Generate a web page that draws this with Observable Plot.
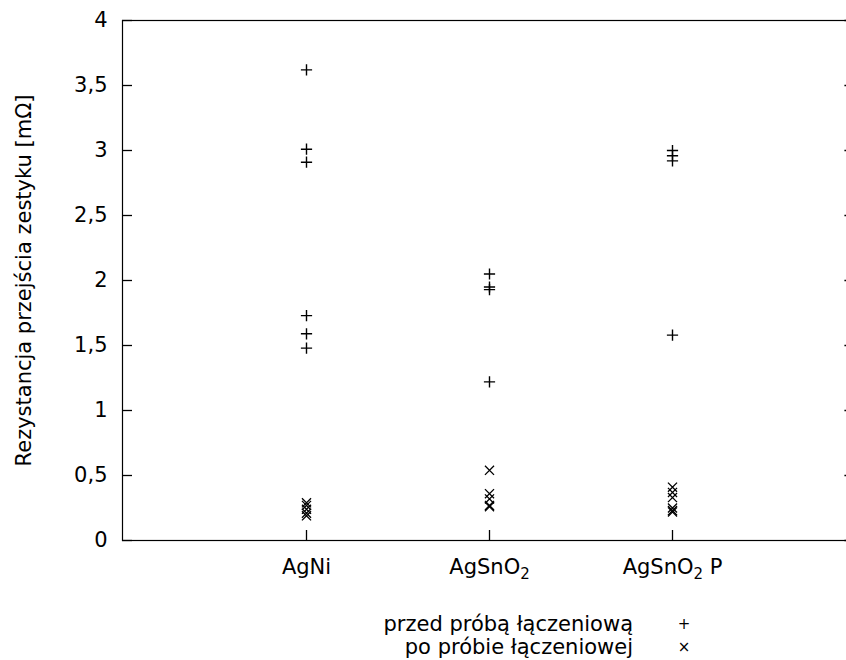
<!DOCTYPE html>
<html>
<head>
<meta charset="utf-8">
<script src="https://cdn.jsdelivr.net/npm/d3@7"></script>
<script src="https://cdn.jsdelivr.net/npm/@observablehq/plot@0.6"></script>
<style>
  html, body { margin: 0; padding: 0; background: #fff; }
  #wrap { position: relative; width: 846px; height: 660px; overflow: hidden; font-family: "DejaVu Sans", sans-serif; color: #000; }
  #legend { position: absolute; left: 0; top: 613px; width: 846px; font-size: 21px; line-height: 23px; }
  .row { display: flex; }
  .row .lab { width: 633px; text-align: right; white-space: pre; }
  .row .sym { width: 102px; text-align: center; font-size: 15px; }
</style>
</head>
<body>
<div id="wrap">
  <div id="chart"></div>
  <div id="legend"></div>
</div>
<script>
// Categories (x axis)
const categories = ["AgNi", "AgSnO₂", "AgSnO₂ P"];
// Series names (legend)
const seriesNames = ["przed próbą łączeniową", "po próbie łączeniowej"];
const seriesSymbols = ["plus", "times"];
const seriesGlyphs = ["+", "×"];
// Values [mΩ]
const beforeAgNi = [3.62, 3.01, 2.91, 1.73, 1.59, 1.48];
const afterAgNi = [0.29, 0.27, 0.24, 0.21, 0.19];
const beforeAgSnO2 = [2.05, 1.95, 1.93, 1.22];
const afterAgSnO2 = [0.54, 0.36, 0.32, 0.27, 0.26];
const beforeAgSnO2P = [3.00, 2.96, 2.92, 1.58];
const afterAgSnO2P = [0.41, 0.37, 0.33, 0.25, 0.23, 0.22];
// Tick values (y axis)
const yTicks = [0, 0.5, 1, 1.5, 2, 2.5, 3, 3.5, 4];

const groups = [
  [beforeAgNi, afterAgNi],
  [beforeAgSnO2, afterAgSnO2],
  [beforeAgSnO2P, afterAgSnO2P]
];
const data = [];
groups.forEach((g, ci) => g.forEach((vals, si) => vals.forEach(v =>
  data.push({category: categories[ci], series: seriesNames[si], value: v}))));

const fmt = d => String(d).replace(".", ",");

const W = 846, H = 600, ML = 122, MR = -9.4, MT = 20, MB = 60;
const frameW = W - ML - MR, frameH = H - MT - MB;
const TICK = 10;

const chart = Plot.plot({
  width: W,
  height: H,
  marginLeft: ML,
  marginRight: MR,
  marginTop: MT,
  marginBottom: MB,
  style: {fontFamily: "DejaVu Sans", fontSize: "21px", color: "#000", background: "#fff"},
  x: {type: "point", domain: categories, padding: 1},
  y: {domain: [0, 4]},
  symbol: {domain: seriesNames, range: seriesSymbols},
  marks: [
    Plot.frame({stroke: "#000", strokeWidth: 1.2}),
    // inward tick marks (gnuplot style)
    Plot.tickY(yTicks, {y: d => d, stroke: "#000", strokeWidth: 1.3, insetRight: frameW - TICK}),
    Plot.tickY(yTicks, {y: d => d, stroke: "#000", strokeWidth: 1.3, insetLeft: frameW - TICK - 1}),
    Plot.tickX(categories, {x: d => d, stroke: "#000", strokeWidth: 1.3, insetTop: frameH - TICK}),
    // labels
    Plot.axisY({ticks: yTicks, tickSize: 0, tickPadding: 15, tickFormat: fmt,
      label: "Rezystancja przejścia zestyku [mΩ]", labelAnchor: "center", labelOffset: 106, labelArrow: "none"}),
    Plot.axisX({tickSize: 0, tickPadding: 19, label: null}),
    Plot.dot(data.filter(d => d.series === seriesNames[0]), {x: "category", y: "value", symbol: "series", r: 3.7,
      stroke: "#000", strokeWidth: 1.4, fill: "none"}),
    Plot.dot(data.filter(d => d.series === seriesNames[1]), {x: "category", y: "value", symbol: "series", r: 4.2,
      stroke: "#000", strokeWidth: 1.3, fill: "none"})
  ]
});
document.getElementById("chart").appendChild(chart);

// render the subscript 2 of SnO2 as a lowered, smaller digit
d3.select(chart).selectAll('g[aria-label="x-axis tick label"] text').each(function() {
  const t = this.textContent;
  if (!t.includes("₂")) return;
  const [a, b] = t.split("₂");
  const el = d3.select(this);
  el.text(null);
  el.append("tspan").text(a);
  el.append("tspan").attr("dy", 5).attr("font-size", "15px").text("2");
  if (b) el.append("tspan").attr("dy", -5).text(b);
});

const legend = d3.select("#legend");
seriesNames.forEach((name, i) => {
  const row = legend.append("div").attr("class", "row");
  row.append("span").attr("class", "lab").text(name);
  row.append("span").attr("class", "sym").text(seriesGlyphs[i]);
});
</script>
</body>
</html>
